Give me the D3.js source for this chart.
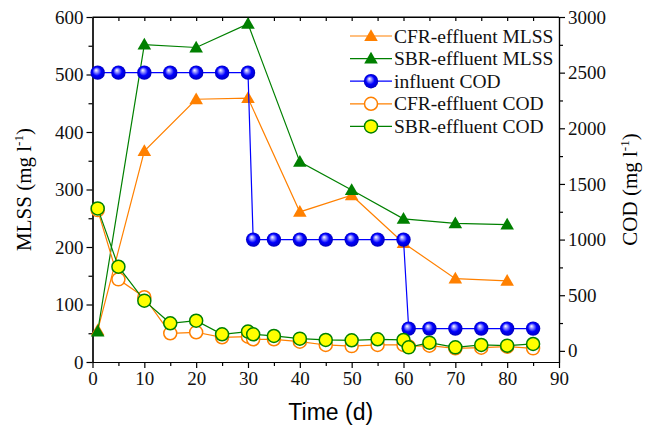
<!DOCTYPE html>
<html>
<head>
<meta charset="utf-8">
<script src="https://cdn.jsdelivr.net/npm/d3@7"></script>
<style>
  body { margin: 0; background: #fff; }
  .axis path, .axis line { stroke: #000; stroke-width: 1.2; }
</style>
</head>
<body>
<div id="chart"></div>
<script>
// datos
const diasMlss = [1, 10, 20, 30, 40, 50, 60, 70, 80];
const cfrMlss = [55, 367, 457, 459, 261, 290, 207, 145, 141];
const sbrMlss = [53, 552, 547, 588, 348, 299, 249, 241, 239];

const diasCod = [1, 5, 10, 15, 20, 25, 30, 31, 35, 40, 45, 50, 55, 60, 61, 65, 70, 75, 80, 85];
const influentCod = [2500, 2500, 2500, 2500, 2500, 2500, 2500,
                     1000, 1000, 1000, 1000, 1000, 1000, 1000,
                     200, 200, 200, 200, 200, 200];
const cfrCod = [1265, 643, 482, 158, 167, 122, 128, 104, 104, 83, 53, 43, 53, 53, 40, 47, 23, 29, 38, 23];
const sbrCod = [1280, 756, 451, 248, 271, 149, 173, 149, 134, 110, 98, 95, 104, 98, 32, 74, 32, 53, 47, 62];

const xTicks = d3.range(0, 91, 10);
const mlssTicks = d3.range(0, 601, 100);
const codTicks = d3.range(0, 3001, 500);

const legendNames = ['CFR-effluent MLSS', 'SBR-effluent MLSS', 'influent COD', 'CFR-effluent COD', 'SBR-effluent COD'];

const naranja = '#ff8000', verde = '#008000', azul = '#0000ff';
const serif = '"Liberation Serif", "Times New Roman", serif';

const W = 648, H = 430;
const margin = {top: 17, right: 89, bottom: 68, left: 92.5};
const width = W - margin.left - margin.right;
const height = H - margin.top - margin.bottom;

const svg = d3.select('#chart').append('svg')
  .attr('width', W).attr('height', H);

// gradiente para las esferas azules
const defs = svg.append('defs');
const grad = defs.append('radialGradient')
  .attr('id', 'esfera').attr('cx', '50%').attr('cy', '50%').attr('r', '55%')
  .attr('fx', '38%').attr('fy', '32%');
grad.append('stop').attr('offset', '0%').attr('stop-color', '#ffffff');
grad.append('stop').attr('offset', '22%').attr('stop-color', '#9a9aff');
grad.append('stop').attr('offset', '55%').attr('stop-color', '#0000ff');
grad.append('stop').attr('offset', '100%').attr('stop-color', '#0000b0');

const g = svg.append('g').attr('transform', `translate(${margin.left},${margin.top})`);

const x = d3.scaleLinear().domain([0, 90]).range([0, width]);
const yL = d3.scaleLinear().domain([0, 600]).range([height, 0]);
const yR = d3.scaleLinear().domain([-100, 3000]).range([height, 0]);

function estiloEje(sel) {
  sel.selectAll('text')
    .style('font-family', serif)
    .style('font-size', '19px')
    .style('fill', '#111');
}

// ejes
g.append('g').attr('class', 'axis')
  .attr('transform', `translate(0,${height})`)
  .call(d3.axisBottom(x).tickValues(xTicks).tickSize(6).tickPadding(4).tickSizeOuter(0))
  .call(estiloEje);
g.append('g').attr('class', 'axis')
  .attr('transform', `translate(0,${height})`)
  .call(d3.axisBottom(x).tickValues(d3.range(5, 90, 10)).tickSize(4).tickFormat('').tickSizeOuter(0));
g.append('g').attr('class', 'axis')
  .call(d3.axisTop(x).tickValues(d3.range(5, 90, 5)).tickSize(-4).tickFormat('').tickSizeOuter(0));

g.append('g').attr('class', 'axis')
  .call(d3.axisLeft(yL).tickValues(mlssTicks).tickSize(6).tickPadding(3).tickSizeOuter(0))
  .call(estiloEje);
g.append('g').attr('class', 'axis')
  .call(d3.axisLeft(yL).tickValues(d3.range(50, 600, 100)).tickSize(4).tickFormat('').tickSizeOuter(0));

g.append('g').attr('class', 'axis')
  .attr('transform', `translate(${width},0)`)
  .call(d3.axisRight(yR).tickValues(codTicks).tickFormat(d3.format('d'))
    .tickSize(6).tickPadding(3).tickSizeOuter(0))
  .call(estiloEje);
g.append('g').attr('class', 'axis')
  .attr('transform', `translate(${width},0)`)
  .call(d3.axisRight(yR).tickValues(d3.range(250, 3000, 500)).tickSize(4).tickFormat('').tickSizeOuter(0));

// títulos de ejes
svg.append('text')
  .attr('transform', `translate(31,${margin.top + height / 2}) rotate(-90)`)
  .attr('text-anchor', 'middle')
  .style('font-family', serif).style('font-size', '21px')
  .html('MLSS (mg l<tspan dy="-8" font-size="13px">-1</tspan><tspan dy="8">)</tspan>');

svg.append('text')
  .attr('transform', `translate(637,${margin.top + height / 2}) rotate(-90)`)
  .attr('text-anchor', 'middle')
  .style('font-family', serif).style('font-size', '21px')
  .html('COD (mg l<tspan dy="-8" font-size="13px">-1</tspan><tspan dy="8">)</tspan>');

svg.append('text')
  .attr('x', margin.left + width / 2 + 5).attr('y', 420)
  .attr('text-anchor', 'middle')
  .style('font-family', '"Liberation Sans", Arial, sans-serif').style('font-size', '23px')
  .text('Time (d)');

const triangulo = d3.symbol().type(d3.symbolTriangle).size(80);

function dibujarLinea(dias, valores, y, color) {
  g.append('path')
    .datum(valores)
    .attr('fill', 'none')
    .attr('stroke', color)
    .attr('stroke-width', 1.2)
    .attr('d', d3.line().x((d, i) => x(dias[i])).y(d => y(d)));
}

function dibujarMarcador(sel, tipo) {
  if (tipo === 'triCfr' || tipo === 'triSbr') {
    sel.append('path')
      .attr('d', triangulo)
      .attr('transform', 'translate(0,1)')
      .attr('fill', tipo === 'triCfr' ? naranja : verde);
  } else if (tipo === 'esfera') {
    sel.append('circle').attr('r', 7.2).attr('fill', 'url(#esfera)');
  } else if (tipo === 'abierto') {
    sel.append('circle').attr('r', 6.5).attr('fill', '#fff')
      .attr('stroke', naranja).attr('stroke-width', 1.5);
  } else {
    sel.append('circle').attr('r', 6.5).attr('fill', '#ffff00')
      .attr('stroke', verde).attr('stroke-width', 1.5);
  }
}

function dibujarSerie(dias, valores, y, color, tipo) {
  dibujarLinea(dias, valores, y, color);
  g.append('g').selectAll('g')
    .data(valores)
    .enter()
    .append('g')
      .attr('transform', (d, i) => `translate(${x(dias[i])},${y(d)})`)
      .each(function () { dibujarMarcador(d3.select(this), tipo); });
}

dibujarSerie(diasMlss, cfrMlss, yL, naranja, 'triCfr');
dibujarSerie(diasMlss, sbrMlss, yL, verde, 'triSbr');
dibujarSerie(diasCod, influentCod, yR, azul, 'esfera');
dibujarSerie(diasCod, cfrCod, yR, naranja, 'abierto');
dibujarSerie(diasCod, sbrCod, yR, verde, 'amarillo');

// marco superior
g.append('line').attr('x1', 0).attr('x2', width).attr('y1', 0).attr('y2', 0)
  .attr('stroke', '#000').attr('stroke-width', 1.2);

// leyenda
const colores = [naranja, verde, azul, naranja, verde];
const tipos = ['triCfr', 'triSbr', 'esfera', 'abierto', 'amarillo'];
const leyenda = svg.append('g').attr('transform', 'translate(350,36)');
legendNames.forEach((nombre, i) => {
  const fila = leyenda.append('g').attr('transform', `translate(0,${i * 22.6})`);
  fila.append('line').attr('x1', 0).attr('x2', 42)
    .attr('stroke', colores[i]).attr('stroke-width', 1.2);
  const m = fila.append('g').attr('transform', 'translate(21,0)');
  dibujarMarcador(m, tipos[i]);
  fila.append('text')
    .attr('x', 44).attr('y', 6.5)
    .style('font-family', serif).style('font-size', '19.5px')
    .style('fill', '#111')
    .text(nombre);
});
</script>
</body>
</html>
